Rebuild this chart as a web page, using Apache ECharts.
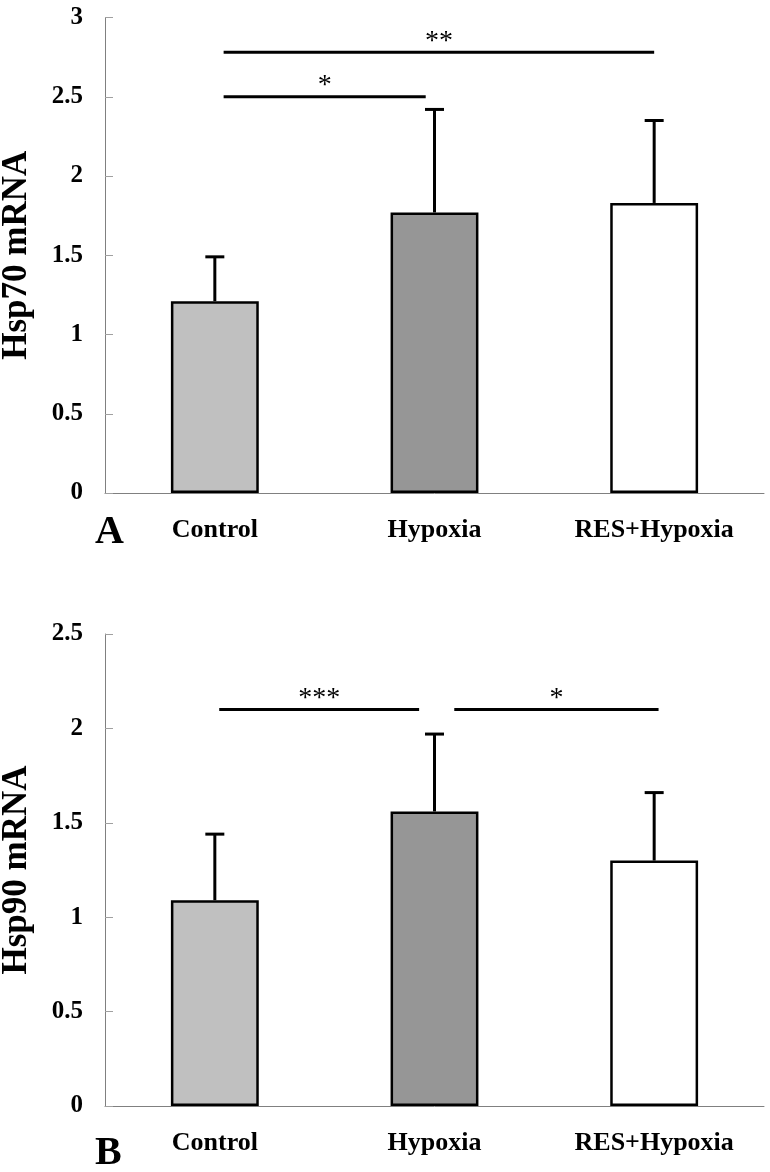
<!DOCTYPE html>
<html>
<head>
<meta charset="utf-8">
<script src="https://cdn.jsdelivr.net/npm/echarts@6/dist/echarts.min.js"></script>
<style>html,body{margin:0;padding:0;background:#fff}#c{width:770px;height:1172px}</style>
</head>
<body>
<div id="c"></div>
<script>
const categories = ['Control', 'Hypoxia', 'RES+Hypoxia'];
const hsp70Mean = [1.21, 1.77, 1.83];
const hsp70Upper = [1.49, 2.42, 2.35];
const hsp90Mean = [1.09, 1.56, 1.30];
const hsp90Upper = [1.44, 1.97, 1.66];
// [start category pos, end category pos, y level, stars]
const hsp70Sig = [[0.04, 0.96, 2.5, '*'], [0.04, 2.0, 2.78, '**']];
const hsp90Sig = [[0.02, 0.93, 2.1, '***'], [1.09, 2.02, 2.1, '*']];
const hsp70Ticks = { min: 0, max: 3, interval: 0.5 };
const hsp90Ticks = { min: 0, max: 2.5, interval: 0.5 };
const barColors = ['#c0c0c0', '#969696', '#ffffff'];

const SERIF = '"Liberation Serif", "Times New Roman", serif';
const chart = echarts.init(document.getElementById('c'), null, { renderer: 'canvas' });

function catAxis(gi) {
  return {
    type: 'category', gridIndex: gi, data: categories,
    axisLine: { onZero: false, lineStyle: { color: '#808080', width: 1 } },
    axisTick: { inside: true, length: 8, lineStyle: { color: '#a0a0a0' } },
    axisLabel: { interval: 0, color: '#000', fontFamily: SERIF, fontWeight: 'bold', fontSize: 26, margin: 24 },
    splitLine: { show: false }
  };
}
function hiddenX(gi) {
  return { type: 'value', gridIndex: gi, min: -0.5, max: 2.5, show: false };
}
function valAxis(gi, t, name) {
  return {
    type: 'value', gridIndex: gi, min: t.min, max: t.max, interval: t.interval,
    name: name, nameLocation: 'middle', nameRotate: 90, nameGap: 71,
    nameTextStyle: { color: '#000', fontFamily: SERIF, fontWeight: 'bold', fontSize: 35 },
    axisLine: { show: true, onZero: false, lineStyle: { color: '#808080', width: 1 } },
    axisTick: { show: true, inside: true, length: 8, lineStyle: { color: '#a0a0a0' } },
    axisLabel: { color: '#000', fontFamily: SERIF, fontWeight: 'bold', fontSize: 25, margin: 22 },
    splitLine: { show: false }
  };
}
function barSeries(gi, vals) {
  return {
    type: 'bar', xAxisIndex: gi, yAxisIndex: gi, barWidth: '40%', z: 3,
    data: vals.map((v, i) => ({ value: v, itemStyle: { color: barColors[i], borderColor: '#000', borderWidth: 2.5 } }))
  };
}
function errSeries(gi, mean, upper) {
  return {
    type: 'custom', xAxisIndex: gi, yAxisIndex: gi, z: 2,
    data: mean.map((m, i) => [i, m, upper[i]]),
    renderItem: function (params, api) {
      const base = api.coord([api.value(0), api.value(1)]);
      const top = api.coord([api.value(0), api.value(2)]);
      const hw = 9.5;
      const st = { stroke: '#000', lineWidth: 3 };
      return { type: 'group', children: [
        { type: 'line', shape: { x1: base[0], y1: base[1], x2: top[0], y2: top[1] }, style: st },
        { type: 'line', shape: { x1: top[0] - hw, y1: top[1], x2: top[0] + hw, y2: top[1] }, style: st }
      ]};
    }
  };
}
function sigSeries(gi, sig) {
  return {
    type: 'custom', xAxisIndex: gi + 2, yAxisIndex: gi, z: 4,
    data: sig.map(s => [s[0], s[1], s[2], s[3]]),
    renderItem: function (params, api) {
      const a = api.coord([api.value(0), api.value(2)]);
      const b = api.coord([api.value(1), api.value(2)]);
      const label = sig[params.dataIndex][3];
      return { type: 'group', children: [
        { type: 'line', shape: { x1: a[0], y1: a[1], x2: b[0], y2: b[1] }, style: { stroke: '#000', lineWidth: 3 } },
        { type: 'text', x: (a[0] + b[0]) / 2, y: a[1] - 11,
          style: { text: label, fill: '#000', font: 'normal 28px ' + SERIF, textAlign: 'center', textVerticalAlign: 'middle' } }
      ]};
    }
  };
}

chart.setOption({
  animation: false,
  backgroundColor: '#fff',
  grid: [
    { left: 105, right: 6, top: 17.5, height: 475.5, containLabel: false, outerBoundsMode: 'none' },
    { left: 105, right: 6, top: 634, height: 472, containLabel: false, outerBoundsMode: 'none' }
  ],
  xAxis: [catAxis(0), catAxis(1), hiddenX(0), hiddenX(1)],
  yAxis: [valAxis(0, hsp70Ticks, 'Hsp70 mRNA'), valAxis(1, hsp90Ticks, 'Hsp90 mRNA')],
  graphic: [
    { type: 'text', left: 95, top: 513, style: { text: 'A', fill: '#000', font: 'bold 40px ' + SERIF } },
    { type: 'text', left: 95, top: 1134, style: { text: 'B', fill: '#000', font: 'bold 40px ' + SERIF } }
  ],
  series: [
    errSeries(0, hsp70Mean, hsp70Upper), barSeries(0, hsp70Mean), sigSeries(0, hsp70Sig),
    errSeries(1, hsp90Mean, hsp90Upper), barSeries(1, hsp90Mean), sigSeries(1, hsp90Sig)
  ]
});
</script>
</body>
</html>
